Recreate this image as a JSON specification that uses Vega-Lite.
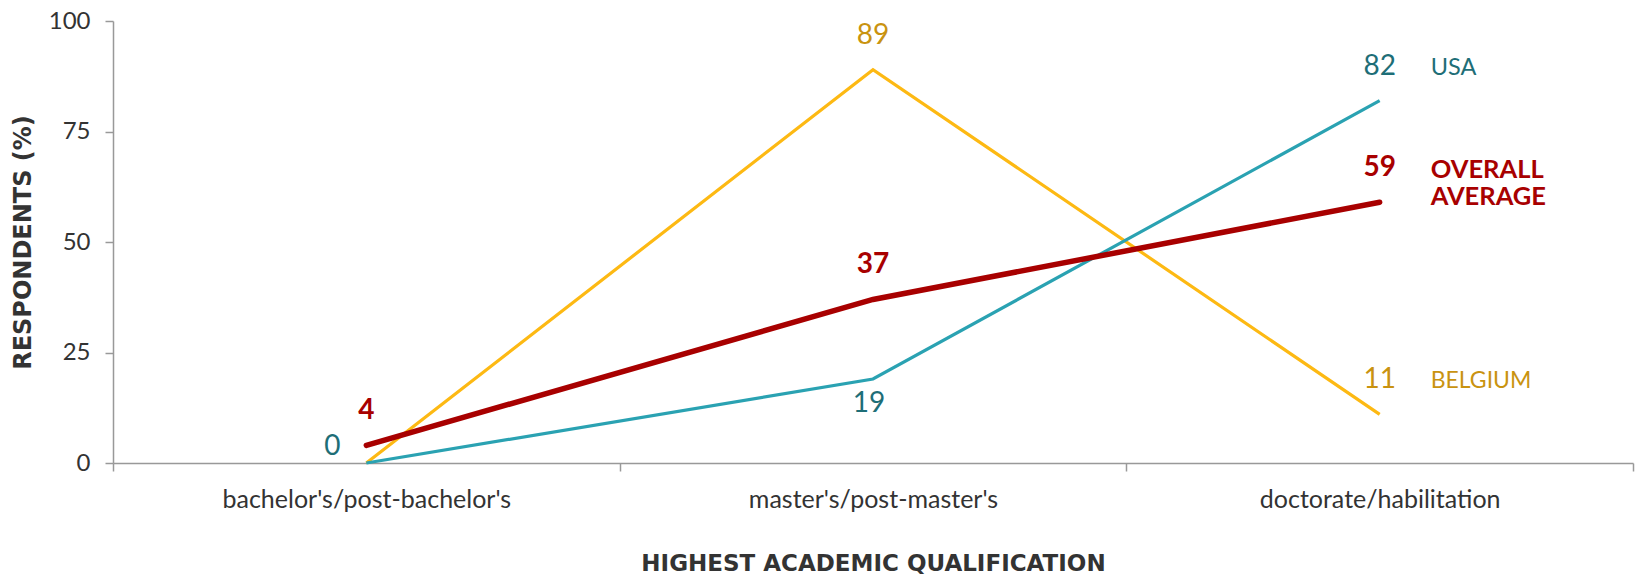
{
  "$schema": "https://vega.github.io/schema/vega-lite/v6.json",
  "width": 1520,
  "height": 442,
  "autosize": {"type": "none"},
  "padding": {"left": 113, "top": 21, "right": 3, "bottom": 114},
  "background": "white",
  "config": {"view": {"stroke": null}, "font": "Lato"},
  "data": {"values": [
    {"series": "Belgium", "name": "BELGIUM", "qual": "bachelor's/post-bachelor's", "value": 0},
    {"series": "Belgium", "name": "BELGIUM", "qual": "master's/post-master's", "value": 89},
    {"series": "Belgium", "name": "BELGIUM", "qual": "doctorate/habilitation", "value": 11},
    {"series": "USA", "name": "USA", "qual": "bachelor's/post-bachelor's", "value": 0},
    {"series": "USA", "name": "USA", "qual": "master's/post-master's", "value": 19},
    {"series": "USA", "name": "USA", "qual": "doctorate/habilitation", "value": 82},
    {"series": "Overall", "name": "OVERALL\nAVERAGE", "qual": "bachelor's/post-bachelor's", "value": 4},
    {"series": "Overall", "name": "OVERALL\nAVERAGE", "qual": "master's/post-master's", "value": 37},
    {"series": "Overall", "name": "OVERALL\nAVERAGE", "qual": "doctorate/habilitation", "value": 59}
  ]},
  "encoding": {
    "x": {
      "field": "qual", "type": "nominal", "bandPosition": 0.5,
      "sort": ["bachelor's/post-bachelor's", "master's/post-master's", "doctorate/habilitation"],
      "scale": {"type": "band", "paddingInner": 0, "paddingOuter": 0},
      "axis": {
        "title": "HIGHEST ACADEMIC QUALIFICATION", "titleFont": "DejaVu Sans", "titleFontWeight": "bold",
        "titleFontSize": 23, "titleColor": "#333333", "titlePadding": 40,
        "labelAngle": 0, "labelFontSize": 25, "labelColor": "#333333", "labelPadding": 16, "labelFont": "Lato", "labelLimit": 0,
        "tickBand": "extent", "tickSize": 8, "tickColor": "#999999", "domainColor": "#999999",
        "domainWidth": 1.5, "tickWidth": 1.5, "grid": false
      }
    },
    "y": {
      "field": "value", "type": "quantitative",
      "scale": {"domain": [0, 100], "nice": false, "zero": true},
      "axis": {
        "title": "RESPONDENTS (%)", "titleFont": "DejaVu Sans", "titleFontWeight": "bold",
        "titleFontSize": 24, "titleColor": "#333333", "titlePadding": 13,
        "values": [0, 25, 50, 75, 100], "labelFontSize": 24, "labelColor": "#333333", "labelPadding": 15, "labelFont": "Lato",
        "tickSize": 8, "tickColor": "#999999", "domainColor": "#999999", "domainWidth": 1.5, "tickWidth": 1.5, "grid": false
      }
    }
  },
  "layer": [
    {"transform": [{"filter": "datum.series === 'Belgium'"}], "mark": {"type": "line", "color": "#FDB913", "strokeWidth": 3.2}},
    {"transform": [{"filter": "datum.series === 'USA'"}], "mark": {"type": "line", "color": "#2AA2B2", "strokeWidth": 3.2}},
    {"transform": [{"filter": "datum.series === 'Overall'"}], "mark": {"type": "line", "color": "#A80000", "strokeWidth": 5.5, "strokeCap": "round"}},
    {"transform": [{"filter": "datum.series === 'Belgium' && datum.value > 0"}],
     "mark": {"type": "text", "color": "#C99310", "fontSize": 28, "dy": -34, "baseline": "middle"},
     "encoding": {"text": {"field": "value", "type": "quantitative"}}},
    {"transform": [{"filter": "datum.series === 'USA' && datum.value > 50"}],
     "mark": {"type": "text", "color": "#1E6E77", "fontSize": 28, "dy": -34, "baseline": "middle"},
     "encoding": {"text": {"field": "value", "type": "quantitative"}}},
    {"transform": [{"filter": "datum.series === 'USA' && datum.value > 0 && datum.value < 50"}],
     "mark": {"type": "text", "color": "#1E6E77", "fontSize": 28, "dy": 25, "dx": -4, "baseline": "middle"},
     "encoding": {"text": {"field": "value", "type": "quantitative"}}},
    {"transform": [{"filter": "datum.series === 'USA' && datum.value === 0"}],
     "mark": {"type": "text", "color": "#1E6E77", "fontSize": 28, "dy": -16, "dx": -34, "baseline": "middle"},
     "encoding": {"text": {"field": "value", "type": "quantitative"}}},
    {"transform": [{"filter": "datum.series === 'Overall'"}],
     "mark": {"type": "text", "color": "#A80000", "fontSize": 28, "fontWeight": "bold", "dy": -34, "baseline": "middle"},
     "encoding": {"text": {"field": "value", "type": "quantitative"}}},
    {"transform": [{"filter": "datum.series === 'USA' && datum.qual === 'doctorate/habilitation'"}],
     "mark": {"type": "text", "color": "#1E6E77", "fontSize": 23.5, "dy": -33, "dx": 51, "align": "left", "baseline": "middle"},
     "encoding": {"text": {"field": "name"}}},
    {"transform": [{"filter": "datum.series === 'Belgium' && datum.qual === 'doctorate/habilitation'"}],
     "mark": {"type": "text", "color": "#C99310", "fontSize": 23, "dy": -33, "dx": 51, "align": "left", "baseline": "middle"},
     "encoding": {"text": {"field": "name"}}},
    {"transform": [{"filter": "datum.series === 'Overall' && datum.qual === 'doctorate/habilitation'"}],
     "mark": {"type": "text", "color": "#A80000", "fontSize": 25.5, "fontWeight": "bold", "dy": -24, "dx": 51, "align": "left", "baseline": "alphabetic", "lineBreak": "\n", "lineHeight": 27},
     "encoding": {"text": {"field": "name"}}}
  ]
}
